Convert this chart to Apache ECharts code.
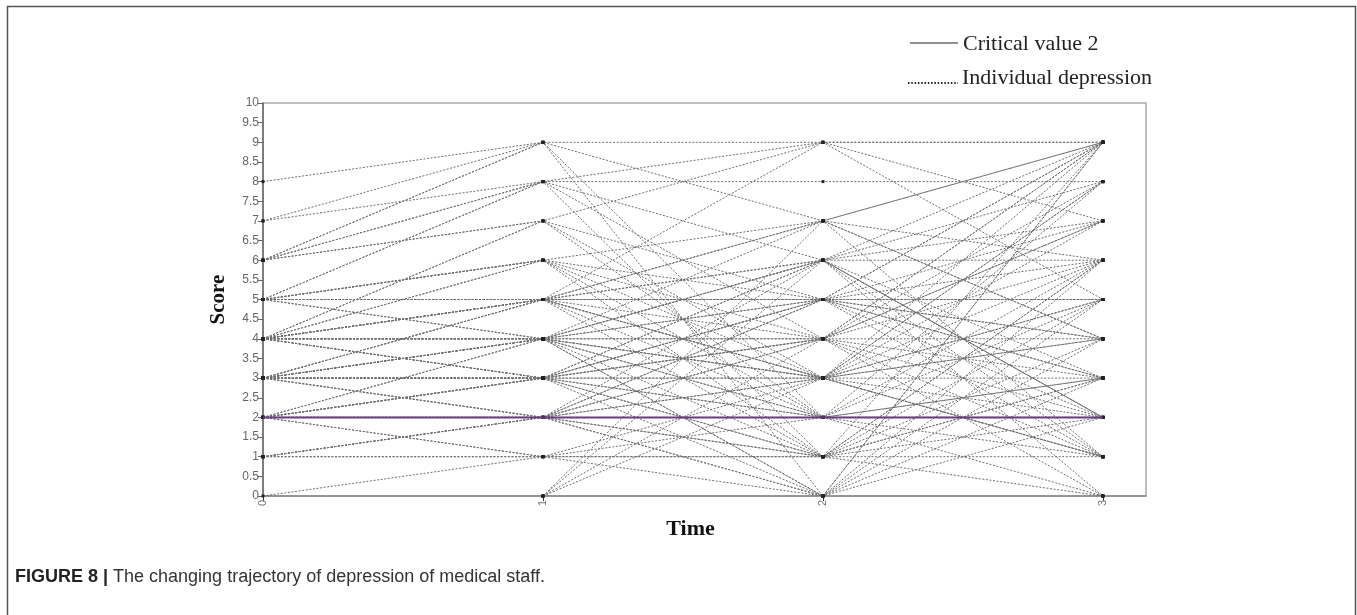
<!DOCTYPE html>
<html>
<head>
<meta charset="utf-8">
<script src="https://cdn.jsdelivr.net/npm/echarts@6/dist/echarts.min.js"></script>
<style>
  html, body { margin: 0; padding: 0; background: #fff; }
  #chart { width: 1357px; height: 615px; }
</style>
</head>
<body>
<div id="chart"></div>
<script>
// ---- data ----
const timePoints = [0, 1, 2, 3];
const xTickLabels = ['0', '1', '2', '3'];
const criticalValue = 2;
// each row: depression score of one staff member at time 0,1,2,3 (null = not measured)
const trajectories = [
  [8, 9, 9, 9],
  [7, 9, 7, 9], [7, 8, 8, 8],
  [6, 9, 2, 6], [6, 8, 9, 9], [6, 7, 5, 3], [6, 9, 0, 5], [6, 8, 4, 7], [6, 7, 3, 9],
  [5, 8, 6, 2], [5, 6, 4, 8], [5, 5, 5, 5], [5, 5, 3, 7], [5, 4, 6, 2], [5, 6, 1, 9], [5, 5, 7, 4], [5, 8, 1, 3], [5, 5, 5, 4],
  [5, 4, 3, 1], [5, 5, 6, 7], [5, 6, 3, 4], [5, 6, 5, 9],
  [4, 7, 9, 5], [4, 6, 7, 4], [4, 5, 1, 6], [4, 4, 4, 4], [4, 4, 2, 3], [4, 3, 6, 9], [4, 5, 7, 1], [4, 4, 0, 9], [4, 4, 5, 5], [4, 3, 3, 4], [4, 6, 2, 0], [4, 7, 2, 1], [4, 5, 5, 6],
  [4, 4, 3, 5], [4, 3, 4, 6], [4, 4, 6, 3], [4, 5, 2, 8], [4, 3, 5, 2], [4, 5, 4, 1], [4, 5, 3, 8],
  [3, 5, 3, 2], [3, 4, 0, 9], [3, 3, 3, 3], [3, 3, 5, 1], [3, 2, 6, 8], [3, 4, 2, 5], [3, 3, 1, 6], [3, 4, 4, 3], [3, 5, 9, 7], [3, 2, 0, 2], [3, 3, 2, 2],
  [3, 3, 4, 7], [3, 4, 5, 3], [3, 3, 0, 6], [3, 2, 1, 4], [3, 4, 1, 2], [3, 5, 6, 0], [3, 4, 7, 6],
  [2, 4, 3, 6], [2, 3, 1, 5], [2, 2, 2, 2], [2, 1, 0, 4], [2, 3, 6, 6], [2, 2, 4, 2], [2, 3, 2, 3], [2, 1, 1, 0], [2, 2, 3, 1],
  [2, 3, 5, 4], [2, 2, 1, 3], [2, 3, 4, 9], [2, 2, 5, 9], [2, 4, 6, 1],
  [1, 2, 4, 0], [1, 1, 1, 1], [1, 2, 5, 7], [1, 1, 3, 8], [1, 2, 0, 3], [1, 2, 3, 5],
  [0, 1, 2, 2],
  [null, 0, 6, 2], [null, 0, 4, 9], [null, 0, 3, 1], [null, 0, 7, 9]
];

// ---- chart ----
const chart = echarts.init(document.getElementById('chart'), null, { renderer: 'canvas' });

const series = trajectories.map((row) => ({
  type: 'line',
  name: 'Individual depression',
  data: row.map((v, t) => (v === null ? null : [timePoints[t], v])).filter(d => d !== null),
  symbol: 'rect',
  symbolSize: 3,
  itemStyle: { color: '#222' },
  lineStyle: { color: '#6e6e6e', width: 1, type: [2, 1.6] },
  silent: true,
  animation: false,
  z: 2
}));

series.push({
  type: 'line',
  name: 'Critical value 2',
  data: [[timePoints[0], criticalValue], [timePoints[timePoints.length - 1], criticalValue]],
  symbol: 'none',
  lineStyle: { color: '#6B3A8C', width: 2 },
  silent: true,
  animation: false,
  z: 3
});

const option = {
  backgroundColor: '#fff',
  animation: false,
  grid: {
    left: 263, top: 103, width: 883, height: 393,
    show: true, borderColor: '#aaa', borderWidth: 1.5, backgroundColor: 'transparent'
  },
  xAxis: {
    type: 'value',
    min: 0,
    max: 3.154,
    name: 'Time',
    nameLocation: 'middle',
    nameGap: 22,
    nameTextStyle: {
      fontFamily: 'Liberation Serif', fontWeight: 'bold', fontSize: 22, color: '#111',
      padding: [0, 28, 0, 0]
    },
    axisLine: { show: true, lineStyle: { color: '#888', width: 1.5 } },
    axisTick: { show: true, length: 5, customValues: timePoints, lineStyle: { color: '#333' } },
    axisLabel: {
      customValues: timePoints,
      formatter: v => xTickLabels[timePoints.indexOf(v)] ?? '',
      rotate: 90, color: '#777', fontSize: 11, margin: 4, fontFamily: 'Liberation Sans'
    },
    splitLine: { show: false }
  },
  yAxis: {
    type: 'value',
    min: 0,
    max: 10,
    interval: 0.5,
    name: 'Score',
    nameLocation: 'middle',
    nameGap: 34,
    nameRotate: 90,
    nameTextStyle: {
      fontFamily: 'Liberation Serif', fontWeight: 'bold', fontSize: 21, color: '#111'
    },
    axisLine: { show: true, lineStyle: { color: '#666', width: 1.5 } },
    axisTick: { show: true, length: 5, lineStyle: { color: '#666' } },
    axisLabel: { color: '#666', fontSize: 12, margin: 4, fontFamily: 'Liberation Sans' },
    splitLine: { show: false }
  },
  series: series,
  graphic: [
    {
      type: 'rect', silent: true,
      shape: { x: 7.5, y: 6.5, width: 1348, height: 640 },
      style: { fill: 'none', stroke: '#555', lineWidth: 1.5 }
    },
    {
      type: 'line', silent: true,
      shape: { x1: 910, y1: 43, x2: 958, y2: 43 },
      style: { stroke: '#222', lineWidth: 1.2 }
    },
    {
      type: 'text', silent: true, x: 963, y: 44,
      style: {
        text: 'Critical value 2', fill: '#222',
        font: '22px "Liberation Serif"', textVerticalAlign: 'middle'
      }
    },
    {
      type: 'line', silent: true,
      shape: { x1: 908, y1: 83, x2: 958, y2: 83 },
      style: { stroke: '#222', lineWidth: 2, lineDash: [1.5, 1.8] }
    },
    {
      type: 'text', silent: true, x: 962, y: 78,
      style: {
        text: 'Individual depression', fill: '#222',
        font: '22px "Liberation Serif"', textVerticalAlign: 'middle'
      }
    },
    {
      type: 'text', silent: true, x: 15, y: 577,
      style: {
        text: '{b|FIGURE 8 |} The changing trajectory of depression of medical staff.',
        fill: '#333', font: '18px "Liberation Sans"', textVerticalAlign: 'middle',
        rich: { b: { fontWeight: 'bold', fontSize: 18, fontFamily: 'Liberation Sans', fill: '#222' } }
      }
    }
  ]
};
chart.setOption(option);
</script>
</body>
</html>
